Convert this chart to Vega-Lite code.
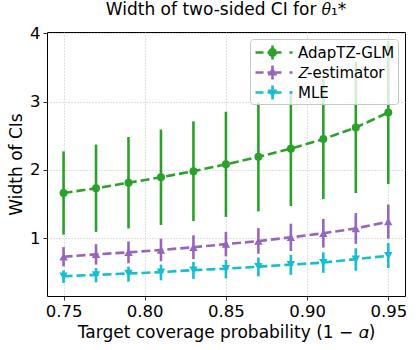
{
  "$schema": "https://vega.github.io/schema/vega-lite/v6.json",
  "width": 358,
  "height": 264,
  "autosize": {"type": "none"},
  "padding": {"left": 47, "top": 32, "right": 11, "bottom": 54},
  "background": "white",
  "config": {
    "font": "DejaVu Sans",
    "view": {"stroke": "#000000", "strokeWidth": 1},
    "legend": {
      "fillColor": "rgba(255,255,255,0.8)",
      "strokeColor": "#c8c8c8",
      "strokeWidth": 1,
      "cornerRadius": 3
    },
    "axis": {
      "domain": false,
      "grid": true,
      "gridColor": "#b0b0b0",
      "gridDash": [1, 2],
      "gridWidth": 0.8,
      "tickColor": "#000000",
      "tickSize": 4,
      "tickWidth": 0.8,
      "labelFont": "DejaVu Sans",
      "labelFontSize": 16.5,
      "labelColor": "#000000",
      "titleFont": "DejaVu Sans",
      "titleFontSize": 17,
      "titleFontWeight": "normal",
      "titleColor": "#000000"
    }
  },
  "title": {
    "text": "Width of two-sided CI for 𝜃₁*",
    "font": "DejaVu Sans",
    "fontSize": 17,
    "fontWeight": "normal",
    "color": "#000000",
    "anchor": "middle",
    "offset": 6
  },
  "data": {
    "values": [
      {"x": 0.75, "method": "AdapTZ-GLM", "width": 1.66, "lo": 1.05, "hi": 2.27},
      {"x": 0.77, "method": "AdapTZ-GLM", "width": 1.73, "lo": 1.09, "hi": 2.37},
      {"x": 0.79, "method": "AdapTZ-GLM", "width": 1.81, "lo": 1.14, "hi": 2.48},
      {"x": 0.81, "method": "AdapTZ-GLM", "width": 1.89, "lo": 1.19, "hi": 2.59},
      {"x": 0.83, "method": "AdapTZ-GLM", "width": 1.98, "lo": 1.25, "hi": 2.71},
      {"x": 0.85, "method": "AdapTZ-GLM", "width": 2.08, "lo": 1.31, "hi": 2.85},
      {"x": 0.87, "method": "AdapTZ-GLM", "width": 2.19, "lo": 1.39, "hi": 2.99},
      {"x": 0.89, "method": "AdapTZ-GLM", "width": 2.31, "lo": 1.47, "hi": 3.15},
      {"x": 0.91, "method": "AdapTZ-GLM", "width": 2.45, "lo": 1.57, "hi": 3.33},
      {"x": 0.93, "method": "AdapTZ-GLM", "width": 2.62, "lo": 1.66, "hi": 3.58},
      {"x": 0.95, "method": "AdapTZ-GLM", "width": 2.84, "lo": 1.79, "hi": 3.89},
      {"x": 0.75, "method": "Z-estimator", "width": 0.725, "lo": 0.584, "hi": 0.867},
      {"x": 0.77, "method": "Z-estimator", "width": 0.76, "lo": 0.61, "hi": 0.91},
      {"x": 0.79, "method": "Z-estimator", "width": 0.79, "lo": 0.63, "hi": 0.95},
      {"x": 0.81, "method": "Z-estimator", "width": 0.825, "lo": 0.66, "hi": 0.99},
      {"x": 0.83, "method": "Z-estimator", "width": 0.865, "lo": 0.69, "hi": 1.04},
      {"x": 0.85, "method": "Z-estimator", "width": 0.91, "lo": 0.73, "hi": 1.09},
      {"x": 0.87, "method": "Z-estimator", "width": 0.955, "lo": 0.77, "hi": 1.145},
      {"x": 0.89, "method": "Z-estimator", "width": 1.01, "lo": 0.81, "hi": 1.21},
      {"x": 0.91, "method": "Z-estimator", "width": 1.07, "lo": 0.86, "hi": 1.28},
      {"x": 0.93, "method": "Z-estimator", "width": 1.14, "lo": 0.915, "hi": 1.365},
      {"x": 0.95, "method": "Z-estimator", "width": 1.24, "lo": 0.99, "hi": 1.49},
      {"x": 0.75, "method": "MLE", "width": 0.44, "lo": 0.34, "hi": 0.525},
      {"x": 0.77, "method": "MLE", "width": 0.46, "lo": 0.35, "hi": 0.56},
      {"x": 0.79, "method": "MLE", "width": 0.48, "lo": 0.36, "hi": 0.58},
      {"x": 0.81, "method": "MLE", "width": 0.5, "lo": 0.38, "hi": 0.61},
      {"x": 0.83, "method": "MLE", "width": 0.53, "lo": 0.4, "hi": 0.65},
      {"x": 0.85, "method": "MLE", "width": 0.55, "lo": 0.41, "hi": 0.68},
      {"x": 0.87, "method": "MLE", "width": 0.58, "lo": 0.437, "hi": 0.715},
      {"x": 0.89, "method": "MLE", "width": 0.61, "lo": 0.46, "hi": 0.755},
      {"x": 0.91, "method": "MLE", "width": 0.64, "lo": 0.49, "hi": 0.79},
      {"x": 0.93, "method": "MLE", "width": 0.69, "lo": 0.52, "hi": 0.85},
      {"x": 0.95, "method": "MLE", "width": 0.74, "lo": 0.56, "hi": 0.925}
    ]
  },
  "encoding": {
    "x": {
      "field": "x",
      "type": "quantitative",
      "scale": {"domain": [0.7398, 0.9603], "nice": false, "zero": false},
      "axis": {
        "title": "Target coverage probability (1 − 𝛼)",
        "values": [0.75, 0.8, 0.85, 0.9, 0.95],
        "format": ".2f",
        "labelPadding": 3,
        "titlePadding": 5
      }
    },
    "color": {
      "field": "method",
      "type": "nominal",
      "scale": {
        "domain": ["AdapTZ-GLM", "Z-estimator", "MLE"],
        "range": ["#2ca02c", "#9467bd", "#17becf"]
      },
      "legend": {
        "title": null,
        "orient": "top-right",
        "offset": 7,
        "padding": 3,
        "rowPadding": 1,
        "zindex": 1,
        "fillColor": "rgba(255,255,255,0.8)",
        "strokeColor": "#c8c8c8",
        "cornerRadius": 3,
        "labelFont": "DejaVu Sans",
        "labelFontSize": 15,
        "labelColor": "#000000",
        "labelOffset": 24,
        "symbolSize": 400,
        "symbolStrokeWidth": 0.01,
        "symbolOpacity": 1,
        "symbolType": {"expr": "datum.value === 'AdapTZ-GLM' ? 'M-0.8,-0.13H0V0.13H-0.8Z M0.4,-0.13H1.8V0.13H0.4Z M2.6,-0.13H2.9V0.13H2.6Z M0.77,-0.7H1.03V0.7H0.77Z M0.45,0A0.45,0.45 0 1,1 1.35,0A0.45,0.45 0 1,1 0.45,0Z' : datum.value === 'Z-estimator' ? 'M-0.8,-0.13H0V0.13H-0.8Z M0.4,-0.13H1.8V0.13H0.4Z M2.6,-0.13H2.9V0.13H2.6Z M0.77,-0.7H1.03V0.7H0.77Z M0.9,-0.55L1.4,0.3L0.4,0.3Z' : 'M-0.8,-0.13H0V0.13H-0.8Z M0.4,-0.13H1.8V0.13H0.4Z M2.6,-0.13H2.9V0.13H2.6Z M0.77,-0.7H1.03V0.7H0.77Z M0.9,0.55L0.4,-0.3L1.4,-0.3Z'"},
        "labelExpr": "datum.label === 'Z-estimator' ? '𝑍-estimator' : datum.label"
      }
    }
  },
  "layer": [
    {
      "mark": {"type": "rule", "strokeWidth": 2.6},
      "encoding": {
        "y": {
          "field": "lo",
          "type": "quantitative",
          "scale": {"domain": [0.15, 4.02], "nice": false, "zero": false},
          "axis": {
            "title": "Width of CIs",
            "values": [1, 2, 3, 4],
            "format": "d",
            "labelPadding": 3,
            "titlePadding": 4
          }
        },
        "y2": {"field": "hi"}
      }
    },
    {
      "mark": {"type": "line", "strokeWidth": 2.6, "strokeDash": [9, 4]},
      "encoding": {
        "y": {"field": "width", "type": "quantitative"},
        "detail": {"field": "method"}
      }
    },
    {
      "transform": [{"filter": "datum.method === 'AdapTZ-GLM'"}],
      "mark": {"type": "point", "filled": true, "opacity": 1, "shape": "circle", "size": 64},
      "encoding": {"y": {"field": "width", "type": "quantitative"}}
    },
    {
      "transform": [{"filter": "datum.method === 'Z-estimator'"}],
      "mark": {"type": "point", "filled": true, "opacity": 1, "shape": "triangle-up", "size": 72},
      "encoding": {"y": {"field": "width", "type": "quantitative"}}
    },
    {
      "transform": [{"filter": "datum.method === 'MLE'"}],
      "mark": {"type": "point", "filled": true, "opacity": 1, "shape": "triangle-down", "size": 72},
      "encoding": {"y": {"field": "width", "type": "quantitative"}}
    }
  ]
}
